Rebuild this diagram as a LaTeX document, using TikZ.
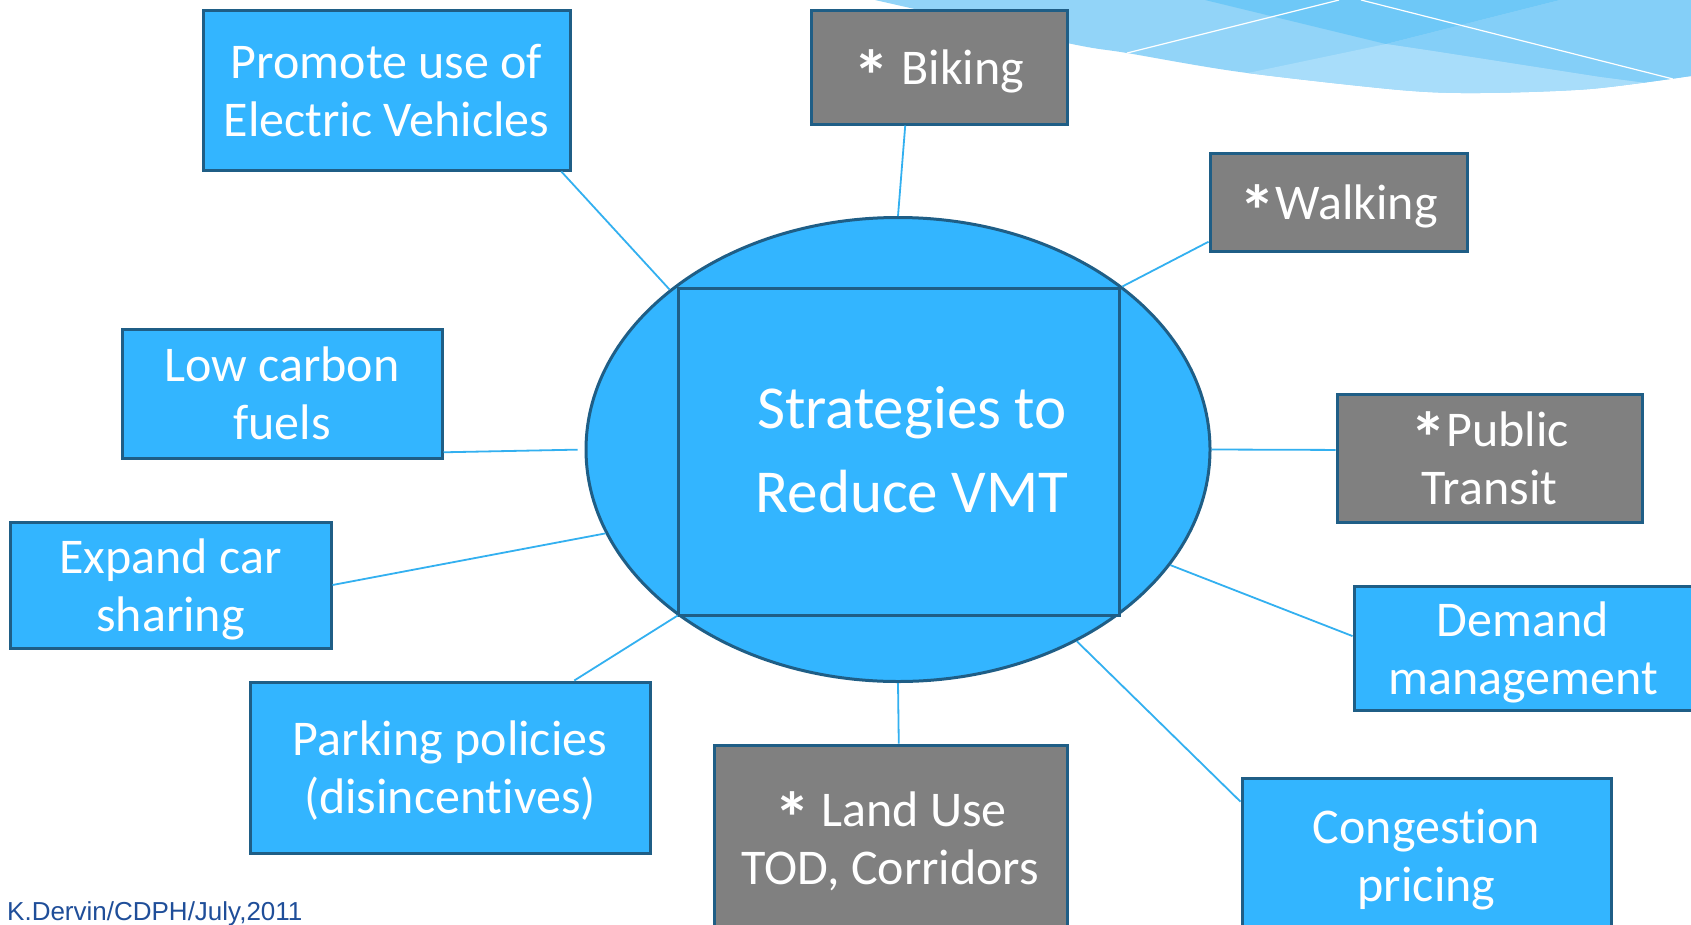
\documentclass[tikz,border=0pt]{standalone}
\usepackage{fontspec}
\setmainfont{Carlito}[Ligatures=NoCommon]
\newfontfamily\footfont{Liberation Sans}
\usetikzlibrary{shapes.geometric}
\newcommand\astmark{\raisebox{-17pt}{\scalebox{1.45}{\bfseries *}}}
\definecolor{boxblue}{RGB}{51,181,255}
\definecolor{edgeblue}{RGB}{31,94,134}
\definecolor{linkblue}{RGB}{51,176,240}
\definecolor{boxgray}{RGB}{128,128,128}
\definecolor{footblue}{RGB}{31,78,153}
\definecolor{waveL}{RGB}{146,212,248}
\definecolor{waveT}{RGB}{110,200,247}
\definecolor{waveR}{RGB}{132,207,248}
\definecolor{waveB}{RGB}{168,221,250}
\begin{document}
\begin{tikzpicture}[x=1pt,y=-1pt,
  bluebox/.style={draw=edgeblue,line width=3pt,fill=boxblue,text=white,align=center,inner sep=0pt,text depth=0pt,font=\fontsize{50}{58}\selectfont},
  graybox/.style={bluebox,fill=boxgray},
  link/.style={draw=linkblue,line width=1.8pt}]
\fill[white] (0,0) rectangle (1691,924);
\useasboundingbox (0,0) rectangle (1691,924);
% decorative wave
\begin{scope}
\clip (875,0) -- plot[smooth] coordinates {(875,0) (1067,43) (1127,53) (1240,72) (1400,90) (1480,93) (1590,89) (1691,76)} -- (1691,0) -- cycle;
\fill[waveL] (860,-5) rectangle (1700,120);
\fill[waveT] (1205,0) -- (1560,0) -- (1386,44) -- cycle;
\fill[waveR] (1560,0) -- (1700,0) -- (1700,90) -- (1600,77) -- (1433,51) -- (1386,44) -- cycle;
\fill[waveB] (1386,44) -- (1433,51) -- (1600,77) -- (1700,90) -- (1700,130) -- (1100,130) -- (1100,104) -- cycle;
\end{scope}
\draw[white,line width=1.2pt] (1127,53) -- (1339,0);
\draw[white,line width=1.2pt] (1361,0) -- (1673,79);
% hub
\node[draw=edgeblue,line width=3pt,fill=boxblue,ellipse,minimum width=624pt,minimum height=464pt,inner sep=0pt] (hub) at (898,449.5) {};
\node[draw=edgeblue,line width=3pt,fill=boxblue,minimum width=441pt,minimum height=327pt,inner sep=0pt] (core) at (898.5,451.5) {};
\node[text=white,align=center,font=\fontsize{61}{84}\selectfont,inner sep=0pt] (title) at (912,450) {Strategies to\\Reduce VMT};
% boxes
\node[bluebox,minimum width=367pt,minimum height=160pt] (promote) at (386.5,90) {Promote use of\\Electric Vehicles};
\node[graybox,minimum width=256pt,minimum height=114pt] (biking) at (939,67) {\astmark{} Biking};
\node[graybox,minimum width=257pt,minimum height=98pt] (walking) at (1338.5,202) {\astmark{}Walking};
\node[bluebox,minimum width=320pt,minimum height=129pt] (lowc) at (282,393.5) {Low carbon\\fuels};
\node[graybox,minimum width=305pt,minimum height=128pt] (public) at (1489.5,458) {\astmark{}Public\\Transit};
\node[bluebox,minimum width=321pt,minimum height=126pt] (expand) at (170.5,585) {Expand car\\sharing};
\node[bluebox,minimum width=338pt,minimum height=124pt] (demand) at (1523,648) {Demand\\management};
\node[bluebox,minimum width=400pt,minimum height=171pt] (parking) at (450,767.5) {Parking policies\\(disincentives)};
\node[graybox,minimum width=353pt,minimum height=186pt] (land) at (890.5,838) {\astmark{} Land Use\\TOD, Corridors};
\node[bluebox,minimum width=369pt,minimum height=154pt] (cong) at (1426.5,855) {Congestion\\pricing};
% connectors
\draw[link] (promote.335) -- (hub.145);
\draw[link] (biking.240) -- (hub.90);
\draw[link] (walking.197.4) -- (hub.36.3);
\draw[link,shorten >=7pt] (lowc.340.5) -- (hub.180);
\draw[link] (public.177) -- (hub.0);
\draw[link] (expand.0.7) -- (hub.196.6);
\draw[link] (demand.176) -- (hub.337.1);
\draw[link] (parking.35.8) -- (hub.217.1);
\draw[link] (land.85) -- (hub.270);
\draw[link] (cong.164.3) -- (hub.313.3);
% footer
\node[anchor=base west,inner sep=0pt,font=\footfont\fontsize{26}{30}\selectfont,text=footblue] (foot) at (7,920) {K.Dervin/CDPH/July,2011};
\end{tikzpicture}
\end{document}
